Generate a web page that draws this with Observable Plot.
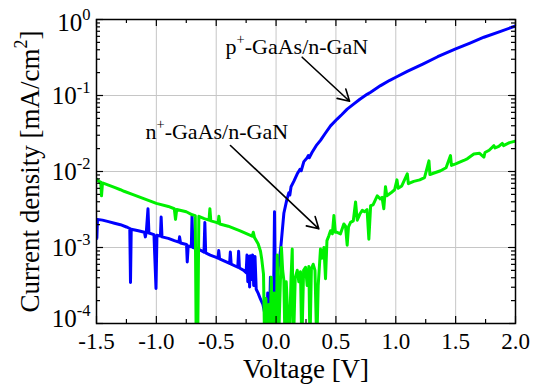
<!DOCTYPE html>
<html><head><meta charset="utf-8">
<script src="https://cdn.jsdelivr.net/npm/d3@7"></script>
<script src="https://cdn.jsdelivr.net/npm/@observablehq/plot@0.6"></script>
<style>
html,body{margin:0;padding:0;background:#fff}
svg text, svg tspan { font-family: "Liberation Serif", "Times New Roman", serif !important; }
</style>
</head><body><div id="chart"></div>
<script>
// ---- data (voltage in V, log10 of current density in mA/cm^2) ----
const xTickValues = [-1.5, -1.0, -0.5, 0, 0.5, 1.0, 1.5, 2.0];
const xMinorValues = [-1.25, -0.75, -0.25, 0.25, 0.75, 1.25, 1.75];
const yDecades = [1e-4, 1e-3, 1e-2, 1e-1, 1];
const yTickExponents = ["-4", "-3", "-2", "-1", "0"];
const seriesNames = ["p^{+}-GaAs/n-GaN", "n^{+}-GaAs/n-GaN"];

const pPoints = [
  [-1.5,-2.63],[-1.497,-2.88],[-1.492,-2.63],[-1.45,-2.64],[-1.4,-2.66],[-1.35,-2.68],[-1.3,-2.70],
  [-1.25,-2.73],[-1.222,-2.75],[-1.216,-3.46],[-1.21,-2.76],[-1.15,-2.78],[-1.1,-2.80],[-1.092,-2.86],
  [-1.084,-2.80],[-1.07,-2.49],[-1.062,-2.81],[-1.02,-2.83],[-1.003,-3.54],[-0.995,-2.84],[-0.966,-2.85],
  [-0.96,-2.6],[-0.953,-2.86],[-0.9,-2.88],[-0.85,-2.91],[-0.812,-2.93],[-0.806,-2.86],[-0.798,-2.94],
  [-0.748,-2.96],[-0.742,-3.19],[-0.734,-2.98],[-0.708,-2.99],[-0.702,-2.59],[-0.694,-3.0],[-0.65,-3.02],
  [-0.602,-3.06],[-0.595,-2.67],[-0.588,-3.07],[-0.55,-3.1],[-0.5,-3.13],[-0.485,-3.14],[-0.479,-3.04],
  [-0.472,-3.15],[-0.43,-3.18],[-0.388,-3.21],[-0.382,-3.06],[-0.375,-3.22],[-0.32,-3.26],[-0.313,-3.05],
  [-0.306,-3.27],[-0.27,-3.3],[-0.25,-3.33],[-0.243,-3.1],[-0.236,-3.45],[-0.228,-3.12],[-0.221,-3.52],
  [-0.214,-3.11],[-0.206,-3.42],[-0.196,-3.1],[-0.187,-3.5],[-0.176,-3.12],[-0.166,-3.55],[-0.15,-3.6],
  [-0.13,-3.68],[-0.11,-3.75],[-0.09,-3.9],[-0.08,-4.3],[-0.07,-3.6],[-0.06,-4.3],[-0.047,-3.39],
  [-0.04,-4.3],[-0.025,-4.3],[-0.013,-2.53],[-0.006,-3.6],[0.0,-3.55],[0.015,-3.3],[0.037,-3.04],
  [0.065,-2.55],[0.09,-2.37],[0.107,-2.28],[0.115,-2.31],[0.125,-2.2],[0.148,-2.13],[0.177,-2.03],
  [0.2,-1.97],[0.21,-1.99],[0.232,-1.87],[0.26,-1.82],[0.27,-1.79],[0.277,-1.82],[0.3,-1.75],
  [0.335,-1.66],[0.371,-1.59],[0.41,-1.5],[0.455,-1.40],[0.51,-1.31],[0.55,-1.25],[0.594,-1.18],
  [0.65,-1.11],[0.70,-1.05],[0.76,-0.985],[0.79,-0.956],[0.873,-0.87],[0.95,-0.80],[1.0,-0.76],
  [1.1,-0.68],[1.23,-0.583],[1.35,-0.49],[1.5,-0.386],[1.62,-0.31],[1.736,-0.233],[1.87,-0.16],[2.0,-0.085]
];

const nPoints = [
  [-1.5,-2.10],[-1.48,-2.13],[-1.465,-2.14],[-1.458,-2.32],[-1.45,-2.15],[-1.4,-2.18],[-1.35,-2.21],
  [-1.3,-2.24],[-1.27,-2.26],[-1.2,-2.30],[-1.1,-2.36],[-1.0,-2.42],[-0.9,-2.46],[-0.85,-2.49],
  [-0.84,-2.63],[-0.83,-2.50],[-0.75,-2.53],[-0.7,-2.57],[-0.675,-2.58],[-0.667,-4.3],[-0.655,-4.3],
  [-0.645,-2.59],[-0.6,-2.62],[-0.56,-2.64],[-0.553,-2.49],[-0.545,-2.65],[-0.5,-2.67],[-0.484,-2.68],
  [-0.478,-2.59],[-0.47,-2.69],[-0.4,-2.72],[-0.3,-2.78],[-0.2,-2.85],[-0.19,-2.8],[-0.18,-2.87],
  [-0.15,-2.95],[-0.13,-3.05],[-0.12,-3.15],[-0.105,-3.35],[-0.095,-4.3],[-0.085,-3.67],[-0.075,-4.3],
  [-0.06,-3.75],[-0.05,-4.3],[-0.04,-3.39],[-0.03,-4.3],[-0.015,-3.6],[0.0,-4.3],[0.01,-3.1],[0.02,-4.3],
  [0.035,-3.5],[0.045,-3.0],[0.055,-3.3],[0.065,-3.43],[0.075,-4.3],[0.085,-3.45],[0.095,-3.8],
  [0.11,-4.3],[0.125,-3.4],[0.135,-3.02],[0.145,-4.3],[0.16,-3.4],[0.177,-3.3],[0.19,-3.45],[0.204,-3.32],
  [0.215,-4.3],[0.23,-3.3],[0.246,-3.26],[0.26,-3.5],[0.274,-3.25],[0.283,-4.3],[0.295,-3.28],
  [0.31,-3.22],[0.325,-3.3],[0.34,-4.3],[0.352,-3.5],[0.371,-3.02],[0.385,-3.14],[0.40,-3.0],
  [0.413,-3.41],[0.425,-2.91],[0.44,-2.85],[0.455,-2.78],[0.47,-2.82],[0.483,-2.58],[0.495,-2.8],
  [0.51,-2.8],[0.538,-2.82],[0.566,-2.69],[0.58,-2.72],[0.594,-2.97],[0.605,-2.73],[0.622,-2.67],
  [0.645,-2.65],[0.664,-2.40],[0.678,-2.64],[0.70,-2.56],[0.72,-2.51],[0.74,-2.53],[0.76,-2.5],
  [0.775,-2.89],[0.79,-2.45],[0.81,-2.44],[0.845,-2.32],[0.87,-2.36],[0.885,-2.34],[0.9,-2.49],
  [0.914,-2.2],[0.925,-2.32],[0.96,-2.28],[0.99,-2.24],[1.01,-2.11],[1.02,-2.22],[1.05,-2.19],
  [1.096,-2.03],[1.105,-2.16],[1.15,-2.13],[1.2,-2.11],[1.24,-2.08],[1.277,-1.86],[1.285,-2.04],
  [1.32,-2.02],[1.374,-1.99],[1.42,-1.95],[1.457,-1.79],[1.465,-1.92],[1.5,-1.9],[1.568,-1.855],
  [1.6,-1.83],[1.652,-1.77],[1.7,-1.76],[1.736,-1.81],[1.745,-1.75],[1.78,-1.72],[1.82,-1.66],
  [1.83,-1.69],[1.86,-1.67],[1.89,-1.63],[1.9,-1.66],[1.95,-1.62],[2.0,-1.60]
];

// annotation labels (data units: V, mA/cm^2) and arrows
const labelX = [-0.422, -1.091];
const labelY = [0.44, 0.0336];
const arrowFrom = [[0.218, 0.319], [-0.381, 0.022]];
const arrowTo = [[0.614, 0.0841], [0.357, 0.00176]];

// ---- build tables ----
const rows = (pts, s) => pts.map(([v, l]) => ({V: v, J: Math.pow(10, l), s}));
const pRows = rows(pPoints, seriesNames[0]);
const nRows = rows(nPoints, seriesNames[1]);
const labels = seriesNames.map((t, i) => ({t, x: labelX[i], y: labelY[i]}));
const arrows = arrowFrom.map((f, i) => ({x1: f[0], y1: f[1], x2: arrowTo[i][0], y2: arrowTo[i][1]}));
const yMinor = d3.scaleLog().domain([1e-4, 1]).ticks().filter(d => !yDecades.some(e => Math.abs(d / e - 1) < 1e-6));
const yLabel = (d) => "10^{" + yTickExponents[yDecades.indexOf(d)] + "}";

const W = 539, H = 389, mL = 96, mR = 24, mT = 19, mB = 66;
const iw = W - mL - mR, ih = H - mT - mB;
const major = 7, minor = 4;
const tk = {stroke: "black", strokeWidth: 1.2};
const serif = "Liberation Serif";
const txt = {fontFamily: serif, fill: "black", lineAnchor: "middle"};

const svg = Plot.plot({
  width: W, height: H,
  marginLeft: mL, marginRight: mR, marginTop: mT, marginBottom: mB,
  style: {fontFamily: serif, background: "white", color: "black"},
  x: {domain: [-1.5, 2], axis: null},
  y: {type: "log", domain: [1e-4, 1], axis: null},
  marks: [
    Plot.gridX(xTickValues.slice(1, -1), {stroke: "#c6c6c6", strokeOpacity: 1, strokeWidth: 1}),
    Plot.gridY(yDecades.slice(1, -1), {stroke: "#c6c6c6", strokeOpacity: 1, strokeWidth: 1}),
    Plot.line(pRows, {x: "V", y: "J", stroke: "#0000ff", strokeWidth: 3, clip: true}),
    Plot.line(nRows, {x: "V", y: "J", stroke: "#00f000", strokeWidth: 3, clip: true}),
    Plot.frame({stroke: "black", strokeWidth: 1.5}),
    // inward ticks
    Plot.ruleX(xTickValues, {x: d => d, insetTop: ih - major, ...tk}),
    Plot.ruleX(xTickValues, {x: d => d, insetBottom: ih - major, ...tk}),
    Plot.ruleX(xMinorValues, {x: d => d, insetTop: ih - minor, ...tk}),
    Plot.ruleX(xMinorValues, {x: d => d, insetBottom: ih - minor, ...tk}),
    Plot.ruleY(yDecades, {y: d => d, insetRight: iw - major, ...tk}),
    Plot.ruleY(yDecades, {y: d => d, insetLeft: iw - major, ...tk}),
    Plot.ruleY(yMinor, {y: d => d, insetRight: iw - minor, ...tk}),
    Plot.ruleY(yMinor, {y: d => d, insetLeft: iw - minor, ...tk}),
    // tick labels
    Plot.text(xTickValues, {x: d => d, frameAnchor: "bottom", dy: 18, text: d => d.toFixed(1), fontSize: 23, textAnchor: "middle", ...txt}),
    Plot.text(yDecades.slice(1, -1), {y: d => d, frameAnchor: "left", dx: -6, textAnchor: "end", text: yLabel, fontSize: 25, ...txt}),
    Plot.text(yDecades.slice(0, 1), {y: d => d, frameAnchor: "left", dx: -6, dy: -5, textAnchor: "end", text: yLabel, fontSize: 25, ...txt}),
    Plot.text(yDecades.slice(-1), {y: d => d, frameAnchor: "left", dx: -6, dy: 3, textAnchor: "end", text: yLabel, fontSize: 25, ...txt}),
    // axis titles
    Plot.text(["Voltage [V]"], {frameAnchor: "bottom", dy: 46, fontSize: 27, textAnchor: "middle", ...txt}),
    Plot.text(["Current density [mA/cm^{2}]"], {frameAnchor: "left", dx: -66, rotate: -90, fontSize: 27, textAnchor: "middle", ...txt}),
    // annotations
    Plot.text(labels, {x: "x", y: "y", text: "t", textAnchor: "start", fontSize: 22, ...txt}),
    Plot.arrow(arrows, {x1: "x1", y1: "y1", x2: "x2", y2: "y2", stroke: "black", strokeWidth: 1.6, headLength: 12})
  ]
});

document.getElementById("chart").appendChild(svg);

// turn "^{...}" into superscript tspans, then anchor the whole text by hand
svg.querySelectorAll("text").forEach(t => {
  const s = t.textContent;
  if (!s.includes("^{")) return;
  const cs = getComputedStyle(t);
  const anchor = cs.textAnchor;
  const fs = parseFloat(cs.fontSize);
  const supFs = fs * 0.66, raise = fs * 0.44;
  const parts = s.split(/\^\{([^}]*)\}/);
  t.textContent = "";
  let up = false;
  parts.forEach((p, i) => {
    if (p === "") return;
    const ts = document.createElementNS("http://www.w3.org/2000/svg", "tspan");
    ts.textContent = p;
    if (i % 2 === 1) { ts.setAttribute("font-size", supFs); ts.setAttribute("dy", -raise); up = true; }
    else if (up) { ts.setAttribute("dy", raise); up = false; }
    t.appendChild(ts);
  });
  const len = t.getComputedTextLength();
  const x0 = parseFloat(t.getAttribute("x")) || 0;
  t.setAttribute("text-anchor", "start");
  t.style.textAnchor = "start";
  t.setAttribute("x", x0 - (anchor === "middle" ? len / 2 : anchor === "end" ? len : 0));
});
</script>
</body></html>
